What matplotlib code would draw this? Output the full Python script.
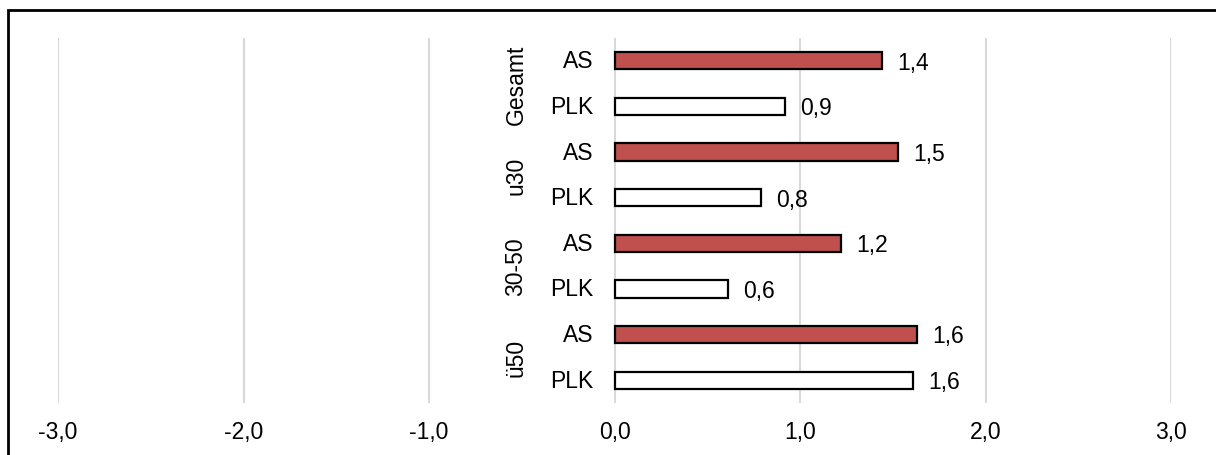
import numpy as np
import matplotlib.pyplot as plt
from matplotlib.patches import Rectangle

plt.rcParams['font.family'] = ['Liberation Sans', 'DejaVu Sans']

groups = ["Gesamt", "u30", "30-50", "ü50"]
series = ["AS", "PLK"]
as_values = [1.44, 1.53, 1.22, 1.63]
plk_values = [0.92, 0.79, 0.61, 1.61]
as_labels = ["1,4", "1,5", "1,2", "1,6"]
plk_labels = ["0,9", "0,8", "0,6", "1,6"]
x_ticks = [-3, -2, -1, 0, 1, 2, 3]
x_ticklabels = ["-3,0", "-2,0", "-1,0", "0,0", "1,0", "2,0", "3,0"]

W, H = 1216, 456
fig = plt.figure(figsize=(W / 100, H / 100), dpi=100)
ax = fig.add_axes([58 / W, 1 - 404 / H, (1171 - 58) / W, (404 - 39) / H])

n = len(groups)
# rows from top: group i -> AS at 2i, PLK at 2i+1
y_as = np.array([2 * i for i in range(n)], dtype=float)
y_plk = y_as + 1
bar_h = 0.38

ax.barh(y_as, as_values, height=bar_h, color="#C0504D", edgecolor="black", linewidth=1.6, zorder=3)
ax.barh(y_plk, plk_values, height=bar_h, color="white", edgecolor="black", linewidth=1.6, zorder=3)

fs = 16.5
for y, v, lab in zip(y_as, as_values, as_labels):
    ax.annotate(lab, (v, y), xytext=(11, -1), textcoords="offset points",
                ha="left", va="center", fontsize=fs)
for y, v, lab in zip(y_plk, plk_values, plk_labels):
    ax.annotate(lab, (v, y), xytext=(11, -1), textcoords="offset points",
                ha="left", va="center", fontsize=fs)

# category labels next to the zero axis
for i, g in enumerate(groups):
    ax.annotate("AS", (0, y_as[i]), xytext=(-15, 0), textcoords="offset points",
                ha="right", va="center", fontsize=fs)
    ax.annotate("PLK", (0, y_plk[i]), xytext=(-15, 0), textcoords="offset points",
                ha="right", va="center", fontsize=fs)
    ax.annotate(g, (0, y_as[i] + 0.5), xytext=(-71, 0), textcoords="offset points",
                ha="center", va="center", rotation=90, fontsize=fs)

ax.set_xlim(-3, 3)
ax.set_ylim(2 * n - 0.5, -0.5)
ax.set_xticks(x_ticks)
ax.set_xticklabels(x_ticklabels, fontsize=fs)
ax.set_yticks([])
ax.tick_params(axis="x", length=0, pad=12)
ax.grid(axis="x", color="#D9D9D9", linewidth=1.5, zorder=0)
for s in ax.spines.values():
    s.set_visible(False)

# outer chart border
fig.add_artist(Rectangle((7.5 / W, -0.05), 1.1, 1 - 10.5 / H + 0.05, transform=fig.transFigure,
                         fill=False, edgecolor="black", linewidth=2))

fig.savefig("out.png", dpi=100)
